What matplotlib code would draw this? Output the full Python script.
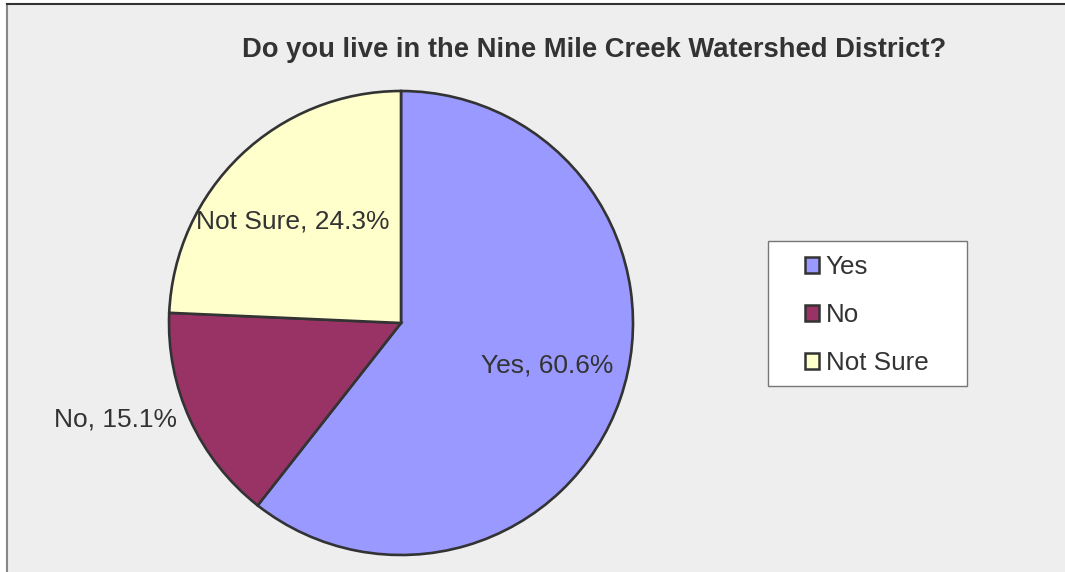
import matplotlib.pyplot as plt
import numpy as np
from matplotlib.patches import Patch, Rectangle
from matplotlib.lines import Line2D

plt.rcParams['font.family'] = ['Liberation Sans', 'DejaVu Sans']

# data
categories = ['Yes', 'No', 'Not Sure']
shares = [60.6, 15.1, 24.3]
colors = ['#9999FF', '#993366', '#FFFFCC']
title = 'Do you live in the Nine Mile Creek Watershed District?'

# label placement (distance from centre, angle nudge in degrees)
label_dist = [0.655, 1.30, 0.64]
label_shift = [3.0, -6.0, 3.1]

W, H = 1065, 572
fig = plt.figure(figsize=(W / 100, H / 100), dpi=100)
fig.patch.set_facecolor('white')

# grey chart area with left/top border
fig.patches.append(Rectangle((7 / W, 0), 1 - 7 / W, 1 - 4 / H, transform=fig.transFigure,
                             facecolor='#EEEEEE', edgecolor='none', zorder=-10))
fig.lines.append(Line2D([7 / W, 7 / W], [0, 1 - 4 / H], transform=fig.transFigure,
                        color='#888888', lw=1.5, zorder=-5))
fig.lines.append(Line2D([7 / W, 1], [1 - 4 / H, 1 - 4 / H], transform=fig.transFigure,
                        color='#333333', lw=1.5, zorder=-5))

cx, cy, R = 401, 323, 232
ax = fig.add_axes([(cx - R) / W, (H - cy - R) / H, 2 * R / W, 2 * R / H])
ax.set_facecolor('none')

wedges, _ = ax.pie(shares, colors=colors, startangle=90, counterclock=False,
                   wedgeprops=dict(edgecolor='#333333', linewidth=1.9))
ax.set_xlim(-1, 1)
ax.set_ylim(-1, 1)
ax.set_aspect('equal')
ax.axis('off')

for w, cat, val, d, s in zip(wedges, categories, shares, label_dist, label_shift):
    a = np.deg2rad((w.theta1 + w.theta2) / 2 + s)
    ax.text(d * np.cos(a), d * np.sin(a), f'{cat}, {val:.1f}%', ha='center', va='center',
            fontsize=19, color='#333333', clip_on=False)

fig.text(594 / W, 1 - 57 / H, title, ha='center', va='baseline',
         fontsize=19.7, fontweight='bold', color='#333333')

# legend box
fig.patches.append(Rectangle((768 / W, 1 - 386 / H), 199 / W, 145 / H, transform=fig.transFigure,
                             facecolor='white', edgecolor='#777777', lw=1.0, zorder=-4))
handles = [Patch(facecolor=c, edgecolor='#333333', linewidth=1.8) for c in colors]
leg = fig.legend(handles, categories, loc='center left',
                 bbox_to_anchor=(805 / W, 1 - 315 / H), frameon=False,
                 fontsize=18.7, handlelength=0.55, handleheight=0.55, handletextpad=0.25,
                 labelspacing=0.92, borderpad=0, borderaxespad=0, labelcolor='#333333')

fig.savefig('out.png', dpi=100)
